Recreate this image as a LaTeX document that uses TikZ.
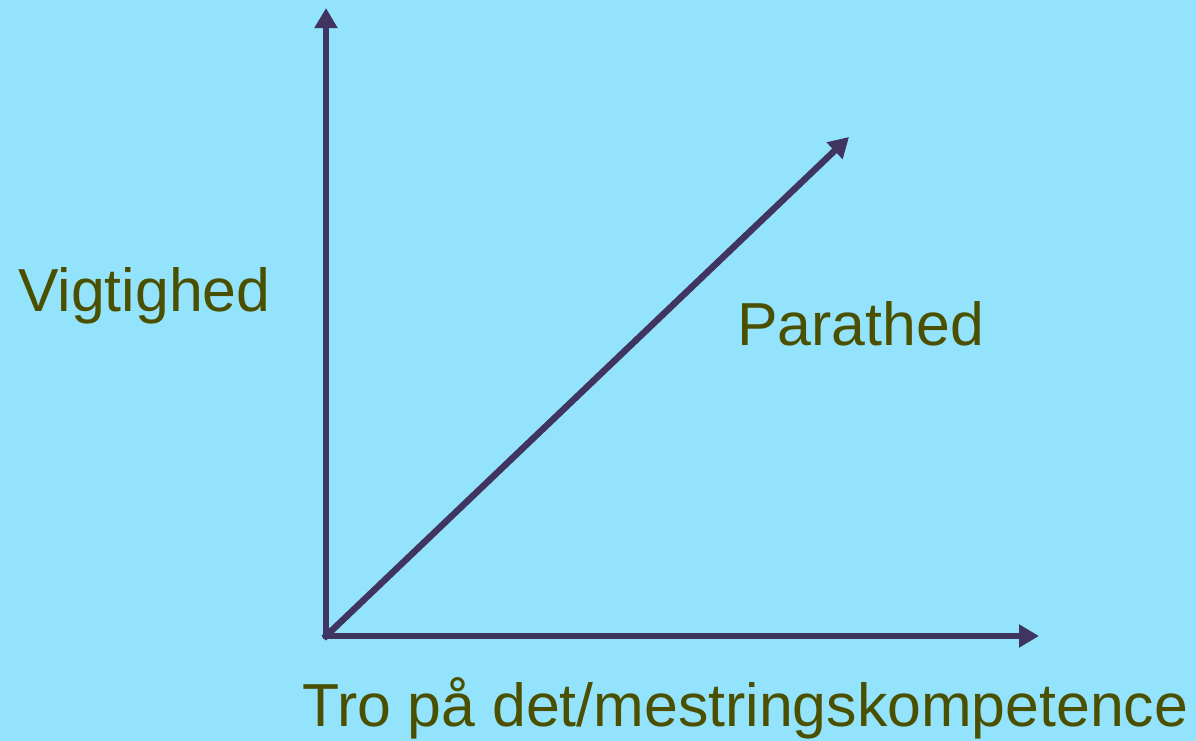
\documentclass[tikz,border=0pt]{standalone}
\usepackage{fontspec}
\setmainfont{Liberation Sans}
\usetikzlibrary{arrows.meta}
\definecolor{bgblue}{RGB}{148,227,253}
\definecolor{axispurple}{RGB}{64,53,96}
\definecolor{labelolive}{RGB}{75,80,0}
\tikzset{
  axis/.style={draw=axispurple, line width=4.6pt, line cap=rect, -{Triangle[length=0.5cm,width=0.55cm]}},
  label/.style={text=labelolive, font=\fontsize{43.2}{52}\selectfont, inner sep=0pt}
}
\begin{document}
\begin{tikzpicture}[x=0.025cm, y=-0.025cm]
			% background and frame
			\fill[bgblue] (0,0) rectangle (1196,741);
			\useasboundingbox (0,0) rectangle (1196,741);
			\coordinate (origin) at (326,636);
			\coordinate (ytip) at (326,8);
			\coordinate (xtip) at (1039,636);
			\coordinate (dtip) at (849,137);
			% axes
			\draw[axis] (origin) -- (ytip);
			\draw[axis] (origin) -- (xtip);
			\draw[axis] (origin) -- (dtip);
			% labels
			\node[label, anchor=base west] (vigtighed) at (18,312) {Vigtighed};
			\node[label, anchor=base west] (parathed) at (737,345) {Parathed};
			\node[label, anchor=base west] (tro) at (302,726) {Tro på det/mestringskompetence};
		\end{tikzpicture}
\end{document}
